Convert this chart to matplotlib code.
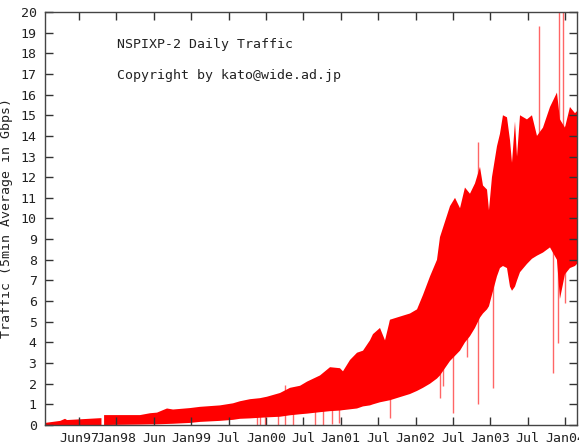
import matplotlib
matplotlib.use("Agg")
import matplotlib.pyplot as plt
import numpy as np

# x in decimal years, values in Gbps
day_x = [1997.045, 1997.25, 1997.313, 1997.34, 1997.78, 1997.80, 1997.82, 1997.835,
         1997.874, 1998.316, 1998.45, 1998.543, 1998.676, 1998.757, 1998.984, 1999.118,
         1999.385, 1999.559, 1999.652, 1999.786, 1999.92, 2000.013, 2000.187, 2000.321,
         2000.455, 2000.548, 2000.722, 2000.856, 2000.989, 2001.029, 2001.123, 2001.217,
         2001.297, 2001.39, 2001.43, 2001.524, 2001.591, 2001.658, 2001.791, 2001.925,
         2002.019, 2002.099, 2002.193, 2002.286, 2002.326, 2002.46, 2002.527, 2002.594,
         2002.66, 2002.727, 2002.794, 2002.861, 2002.901, 2002.955, 2002.981, 2003.021,
         2003.088, 2003.128, 2003.168, 2003.222, 2003.262, 2003.289, 2003.329, 2003.356,
         2003.396, 2003.489, 2003.556, 2003.623, 2003.703, 2003.797, 2003.89, 2003.93,
         2003.997, 2004.064, 2004.131, 2004.158]
day_max = [0.1, 0.2, 0.3, 0.24, 0.33, 0.33, np.nan, 0.48,
           0.48, 0.48, 0.57, 0.6, 0.8, 0.75, 0.82, 0.88,
           0.95, 1.05, 1.15, 1.25, 1.3, 1.37, 1.55, 1.8,
           1.9, 2.1, 2.4, 2.8, 2.75, 2.6, 3.15, 3.5,
           3.6, 4.1, 4.4, 4.7, 4.1, 5.1, 5.25, 5.4,
           5.6, 6.3, 7.2, 8.0, 9.1, 10.6, 11.0, 10.5,
           11.5, 11.2, 11.7, 12.5, 11.6, 11.4, 10.4, 12.0,
           13.5, 14.1, 15.0, 14.9, 13.8, 12.7, 14.7, 13.0,
           15.0, 14.8, 15.0, 14.0, 14.4, 15.4, 16.1, 14.8,
           14.4, 15.4, 15.1, 15.2]
day_min = [0.0, 0.0, 0.0, 0.0, 0.0, 0.0, np.nan, 0.0,
           0.0, 0.02, 0.03, 0.03, 0.05, 0.06, 0.1, 0.15,
           0.2, 0.25, 0.3, 0.32, 0.35, 0.37, 0.4, 0.47,
           0.52, 0.55, 0.62, 0.67, 0.7, 0.72, 0.76, 0.8,
           0.9, 0.95, 1.0, 1.1, 1.15, 1.2, 1.35, 1.5,
           1.65, 1.8, 2.0, 2.25, 2.4, 3.1, 3.35, 3.6,
           4.0, 4.3, 4.7, 5.2, 5.4, 5.6, 5.75, 6.3,
           7.2, 7.6, 7.7, 7.6, 6.7, 6.5, 6.7, 7.0,
           7.4, 7.8, 8.05, 8.2, 8.35, 8.6, 8.0, 6.1,
           7.3, 7.6, 7.7, 7.8]

# single-day outliers
spike_x = [1999.88, 1999.92, 1999.987, 2000.16, 2000.254, 2000.36, 2000.655, 2000.762,
           2000.882, 2000.976, 2001.658, 2002.326, 2002.366, 2002.5, 2002.687, 2002.834,
           2003.035, 2003.65, 2003.837, 2003.904, 2003.917, 2003.971, 2003.997]
spike_lo = [0.0, 0.0, 0.0, 0.0, 0.0, 0.0, 0.0, 0.0,
            0.05, 0.1, 0.35, 1.3, 1.9, 0.58, 3.3, 1.0,
            1.8, 9.0, 2.5, 3.95, 9.0, 9.0, 5.9]
spike_hi = [1.2, 1.2, 1.3, 1.5, 1.95, 1.7, 2.2, 2.4,
            2.6, 2.7, 5.1, 8.5, 9.0, 10.5, 11.0, 13.7,
            11.5, 19.3, 14.0, 14.0, 21.0, 21.0, 14.5]

tick_pos = [1997.5 + 0.5 * k for k in range(14)]
tick_labels = ["Jun97", "Jan98", "Jun", "Jan99", "Jul", "Jan00", "Jul", "Jan01",
               "Jul", "Jan02", "Jul", "Jan03", "Jul", "Jan04"]

plt.rcParams["font.family"] = "DejaVu Sans Mono"

fig = plt.figure(figsize=(5.79, 4.46), dpi=100)
ax = fig.add_axes([45 / 579, 21 / 446, 532 / 579, 413 / 446])

ax.fill_between(day_x, day_min, day_max, color="#ff0000", linewidth=0)
ax.vlines(spike_x, spike_lo, spike_hi, color="#ff0000", linewidth=1.0, alpha=0.6)

ax.set_xlim(1997.045, 2004.158)
ax.set_ylim(0, 20)
ax.set_yticks(range(0, 21))
ax.set_xticks(tick_pos)
ax.set_xticklabels(tick_labels)

ax.tick_params(direction="in", length=6, width=1, color="#333333",
               labelsize=9.5, labelcolor="#222222", top=True, right=True)
ax.tick_params(axis="y", pad=6)
ax.tick_params(axis="x", pad=5)
for s in ax.spines.values():
    s.set_color("#444444")
    s.set_linewidth(1.0)

ax.text(0.135, 0.922, "NSPIXP-2 Daily Traffic", transform=ax.transAxes,
        fontsize=9.5, va="center", ha="left", color="#222222")
ax.text(0.135, 0.847, "Copyright by kato@wide.ad.jp", transform=ax.transAxes,
        fontsize=9.5, va="center", ha="left", color="#222222")

fig.text(7 / 579, 1 - 218 / 446, "Traffic (5min Average in Gbps)", rotation=90,
         fontsize=9.5, va="center", ha="center", color="#222222")

fig.savefig("out.png", dpi=100)
